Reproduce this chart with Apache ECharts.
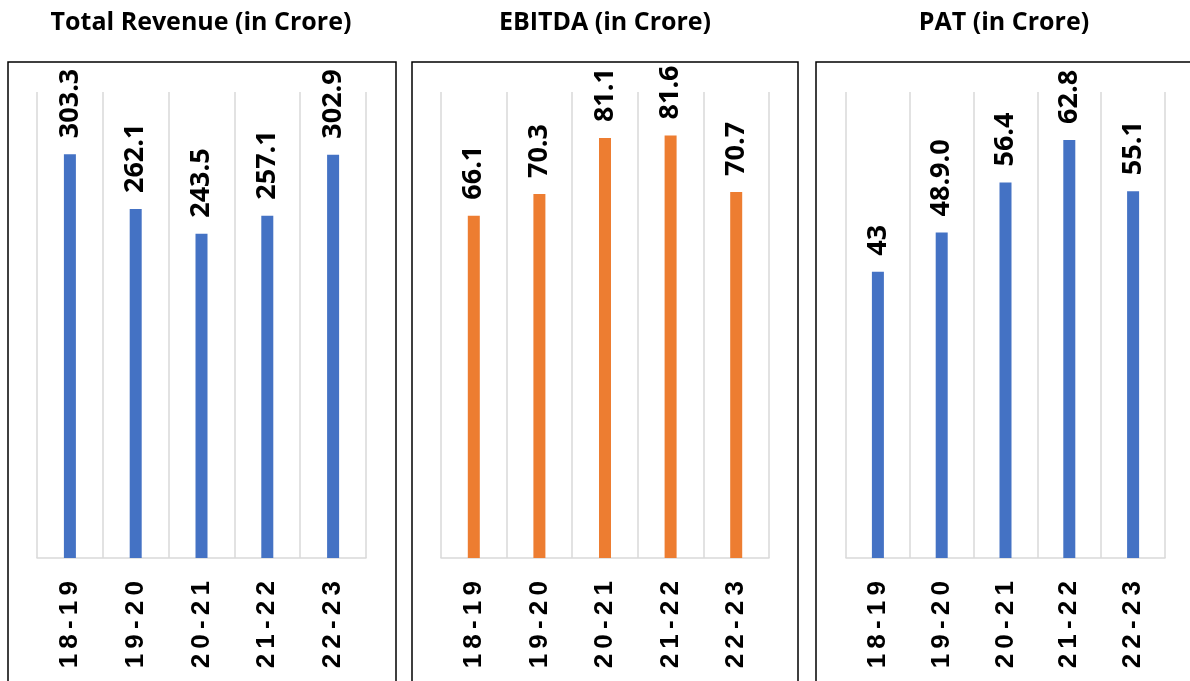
<!DOCTYPE html>
<html>
<head>
<meta charset="utf-8">
<script src="https://cdn.jsdelivr.net/npm/echarts@6/dist/echarts.min.js"></script>
<style>
html,body{margin:0;padding:0;background:#fff;}
#chart{width:1190px;height:681px;}
</style>
</head>
<body>
<div id="chart"></div>
<script>
const categories = ['18-19', '19-20', '20-21', '21-22', '22-23'];
const revenue = [303.3, 262.1, 243.5, 257.1, 302.9];
const ebitda = [66.1, 70.3, 81.1, 81.6, 70.7];
const pat = [43, 48.9, 56.4, 62.8, 55.1];
const patLabels = ['43', '48.9.0', '56.4', '62.8', '55.1'];
const titles = ['Total Revenue (in Crore)', 'EBITDA (in Crore)', 'PAT (in Crore)'];
const yMax = [350, 90, 70];

const chart = echarts.init(document.getElementById('chart'));

const grids = [
  {left: 37, width: 329, top: 92, bottom: 123},
  {left: 441, width: 328, top: 92, bottom: 123},
  {left: 846, width: 319, top: 92, bottom: 123}
];
const titleCenters = [196, 600, 999];
const boxes = [[8, 388], [412, 386], [816, 386]];
const colors = ['#4472C4', '#ED7D31', '#4472C4'];
const seriesData = [revenue, ebitda, pat];

const catFmt = v => v.split('').join('\u2009');

const option = {
  animation: false,
  backgroundColor: '#fff',
  title: titles.map((t, i) => ({
    text: t,
    left: titleCenters[i],
    top: 5,
    textAlign: 'center',
    textStyle: {fontFamily: '"Open Sans", sans-serif', fontWeight: 'bold', fontSize: 25, color: '#000'}
  })),
  graphic: boxes.map(b => ({
    type: 'rect',
    shape: {x: b[0], y: 62, width: b[1], height: 700},
    style: {fill: null, stroke: '#000', lineWidth: 1.5},
    silent: true
  })),
  grid: grids,
  xAxis: grids.map((g, i) => ({
    type: 'category',
    gridIndex: i,
    data: categories,
    axisLine: {show: true, lineStyle: {color: '#d9d9d9', width: 1.5}},
    axisTick: {show: false},
    splitLine: {show: true, lineStyle: {color: '#d9d9d9', width: 1.5}},
    axisLabel: {
      rotate: 90,
      margin: 23,
      formatter: catFmt,
      fontFamily: '"Liberation Sans", Arial, sans-serif',
      fontWeight: 'bold',
      fontSize: 26,
      color: '#000'
    }
  })),
  yAxis: grids.map((g, i) => ({
    type: 'value',
    gridIndex: i,
    min: 0,
    max: yMax[i],
    show: false,
    splitLine: {show: false}
  })),
  series: seriesData.map((d, i) => ({
    type: 'bar',
    xAxisIndex: i,
    yAxisIndex: i,
    data: d,
    barWidth: 12,
    itemStyle: {color: colors[i]},
    label: {
      show: true,
      position: 'top',
      distance: 16,
      rotate: 90,
      align: 'left',
      verticalAlign: 'middle',
      fontFamily: '"Open Sans", sans-serif',
      fontWeight: 'bold',
      fontSize: 27,
      color: '#000',
      formatter: p => (i === 2 ? patLabels[p.dataIndex] : p.value.toFixed(1))
    }
  }))
};
chart.setOption(option);
</script>
</body>
</html>
